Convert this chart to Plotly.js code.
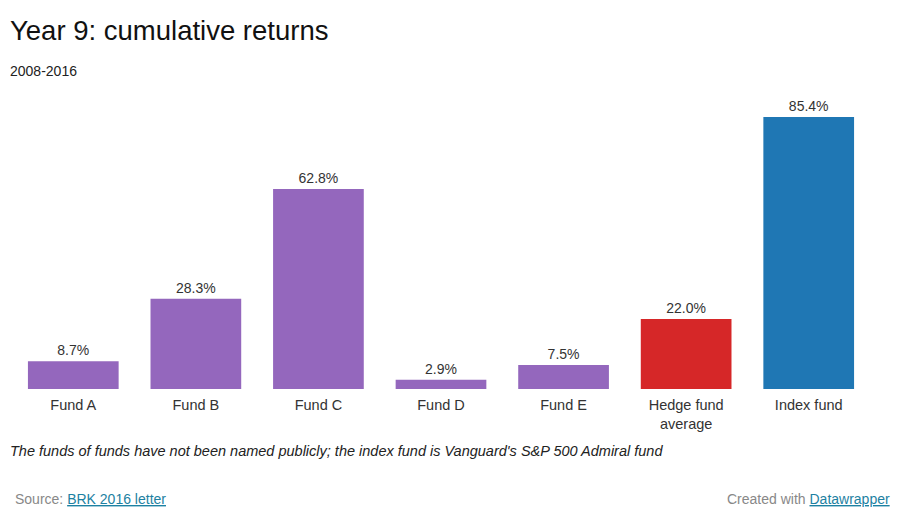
<!DOCTYPE html>
<html><head><meta charset="utf-8">
<script src="https://cdn.plot.ly/plotly-3.0.1.min.js"></script>
<style>html,body{margin:0;padding:0;background:#fff;}#chart{width:911px;height:527px;}</style>
</head><body><div id="chart"></div>
<script>
const categories = ["Fund A","Fund B","Fund C","Fund D","Fund E","Hedge fund<br>average","Index fund"];
const values = [8.7, 28.3, 62.8, 2.9, 7.5, 22.0, 85.4];
const labels = ["8.7%","28.3%","62.8%","2.9%","7.5%","22.0%","85.4%"];
const colors = ["#9467bd","#9467bd","#9467bd","#9467bd","#9467bd","#d62728","#1f77b4"];

const F = "Liberation Sans, Arial, sans-serif";
const trace = {
  type: "bar", x: categories, y: values, text: labels,
  textposition: "outside", cliponaxis: false,
  textfont: {family: F, size: 14, color: "#333"},
  marker: {color: colors}, hoverinfo: "none"
};
const layout = {
  width: 911, height: 527,
  margin: {l: 12, r: 41, t: 100, b: 138},
  paper_bgcolor: "#fff", plot_bgcolor: "#fff",
  bargap: 0.26,
  showlegend: false,
  font: {family: F},
  xaxis: {showgrid: false, zeroline: false, showline: false, ticks: "outside", ticklen: 3, tickcolor: "rgba(0,0,0,0)",
          tickfont: {family: F, size: 14.5, color: "#333"}, fixedrange: true},
  yaxis: {range: [0, 90.7], visible: false, fixedrange: true},
  annotations: [
    {text: "Year 9: cumulative returns", showarrow: false, font: {family: F, size: 27.5, color: "#111"}},
    {text: "2008-2016", showarrow: false, font: {family: F, size: 14, color: "#222"}},
    {text: "<i>The funds of funds have not been named publicly; the index fund is Vanguard's S&P 500 Admiral fund</i>", showarrow: false, font: {family: F, size: 14.5, color: "#222"}},
    {text: "Source: <span style='color:#1d81a2'><u>BRK 2016 letter</u></span>", showarrow: false, font: {family: F, size: 14, color: "#888"}},
    {text: "Created with <span style='color:#1d81a2'><u>Datawrapper</u></span>", showarrow: false, font: {family: F, size: 14, color: "#888"}}
  ]
};
const plotTop = 100, plotH = 527 - 100 - 138, plotL = 12, plotW = 911 - 12 - 41;
function px(x){ return (x - plotL) / plotW; }
function py(y){ return (plotTop + plotH - y) / plotH; }
const pos = [[8,30,"left"],[8,71,"left"],[8,451,"left"],[13,499,"left"],[892,499,"right"]];
layout.annotations.forEach((a,i)=>{ a.xref="paper"; a.yref="paper"; a.x=px(pos[i][0]); a.y=py(pos[i][1]); a.xanchor=pos[i][2]; a.yanchor="middle"; });
Plotly.newPlot("chart", [trace], layout, {displayModeBar: false, staticPlot: true});
</script></body></html>
